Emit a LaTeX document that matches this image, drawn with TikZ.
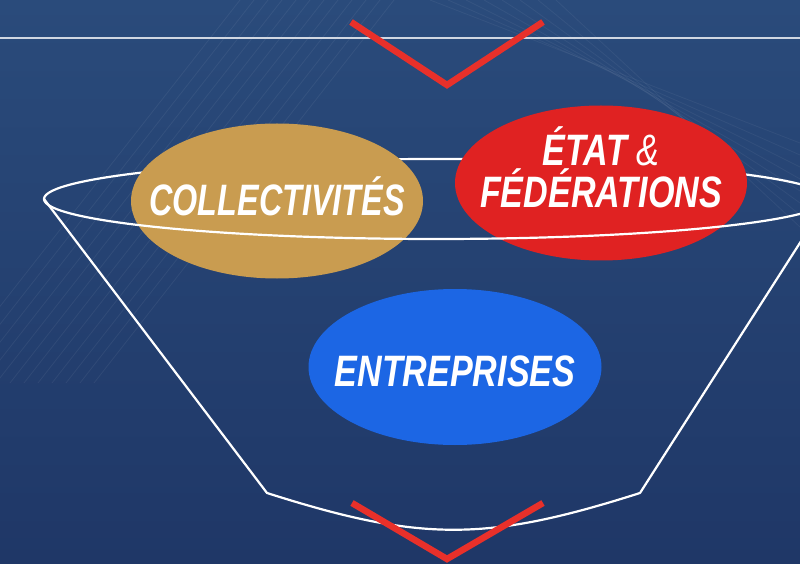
\documentclass[tikz,border=0pt]{standalone}
\usepackage{fontspec}
\usepackage{xcolor}
\usetikzlibrary{shapes.geometric,positioning}
\newfontfamily\condfont[FakeStretch=0.775]{Liberation Sans}
\newfontfamily\narrowfont[FakeStretch=0.735]{Liberation Sans}
\definecolor{bgtop}{HTML}{2A4B7B}
\definecolor{bgbot}{HTML}{1F3767}
\definecolor{gold}{HTML}{C99C50}
\definecolor{rouge}{HTML}{E02222}
\definecolor{bleu}{HTML}{1C66E4}
\definecolor{chevron}{HTML}{E8302A}

\begin{document}
\begin{tikzpicture}[x=1pt,y=1pt]

	\tikzstyle{all} = [ellipse, minimum width=292pt, minimum height=155pt, inner sep=0pt]
	\tikzstyle{txt} = [text=white, inner sep=0pt, align=center, font=\condfont\fontsize{44}{42}\selectfont\bfseries\itshape]
	\tikzstyle{funnel} = [draw=white, line width=2.2pt, line join=round]
	\tikzstyle{chev} = [draw=chevron, line width=6.5pt]

	\shade [top color=bgtop, bottom color=bgbot] (0,0) rectangle (800,563);
	\clip (0,0) rectangle (800,563);

	% Struktur im Hintergrund
	\foreach \i in {0,...,11}
		\draw [white, opacity=0.06, line width=0.8pt] (\i*14-60,180) -- (\i*14+240,563);
	\foreach \i in {0,...,7}
		\draw [white, opacity=0.05, line width=0.8pt] (430+\i*18,563) -- (800,420-\i*12);

	\draw [white!78!bgtop, line width=2pt] (0,525) -- (800,525);
	\draw [chev] (351,541) -- (447,478) -- (543,541);

	% hinterer Rand des Trichters
	\draw [funnel] (44,364) arc[start angle=180, end angle=0, x radius=392, y radius=40];
	\draw [funnel] (44,364) -- (267,70) .. controls (421,21) and (486,21) .. (640,70) -- (828,364);

	\node [all, fill=gold, label={[txt, yshift=5pt, font=\narrowfont\fontsize{44}{42}\selectfont\bfseries\itshape]center:COLLECTIVITÉS}] (collect) at (277,362) {};
	\node [all, fill=rouge, label={[txt, yshift=16pt]center:ÉTAT {\mdseries\&}\\FÉDÉRATIONS}] (etat) at (601,380) {};
	\node [all, fill=bleu, minimum width=293pt, minimum height=156pt, label={[txt, yshift=-4pt]center:ENTREPRISES}] (entreprises) at (455,196) {};

	% vorderer Rand
	\draw [funnel] (44,364) arc[start angle=180, end angle=360, x radius=392, y radius=40];

	\draw [chev] (352,60) -- (447,4) -- (543,60);

\end{tikzpicture}
\end{document}
